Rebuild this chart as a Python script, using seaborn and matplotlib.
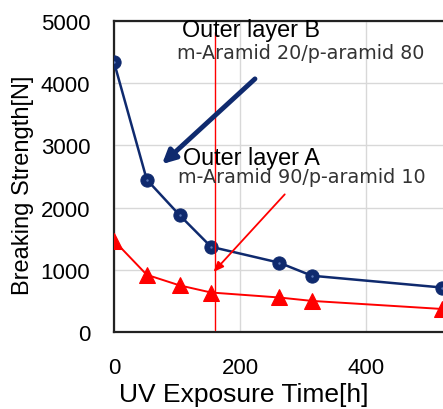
import matplotlib
matplotlib.use("Agg")
import matplotlib.pyplot as plt
from matplotlib.ticker import MultipleLocator
import seaborn as sns
import pandas as pd

# Data
hours_b = [0, 52, 104, 154, 262, 314, 521]
strength_b = [4340, 2450, 1880, 1370, 1115, 905, 715]   # Outer layer B
hours_a = [0, 52, 104, 154, 262, 314, 521]
strength_a = [1470, 920, 750, 635, 555, 500, 370]       # Outer layer A

label_b = "Outer layer B"
sub_b = "m-Aramid 20/p-aramid 80"
label_a = "Outer layer A"
sub_a = "m-Aramid 90/p-aramid 10"
xlabel = "UV Exposure Time[h]"
ylabel = "Breaking Strength[N]"
marker_hour = 160

sns.set_style("white")
plt.rcParams['font.family'] = ['Liberation Sans', 'DejaVu Sans']
plt.rcParams['text.color'] = 'black'
plt.rcParams['axes.labelcolor'] = 'black'
plt.rcParams['xtick.color'] = 'black'
plt.rcParams['ytick.color'] = 'black'

navy = "#0f2a6e"
red = "#ff0000"

fig = plt.figure(figsize=(4.43, 4.10), dpi=100)
ax = fig.add_axes([0.2573, 0.1878, 0.768, 0.7585])

df_b = pd.DataFrame({"h": hours_b, "s": strength_b})
df_a = pd.DataFrame({"h": hours_a, "s": strength_a})

sns.lineplot(data=df_b, x="h", y="s", ax=ax, color=navy, marker="o", markersize=9.5,
             markeredgecolor=navy, linewidth=1.8, zorder=3)
sns.scatterplot(data=df_b, x="h", y="s", ax=ax, color="#5a78b8", s=3, linewidth=0,
                zorder=4, legend=False)
sns.lineplot(data=df_a, x="h", y="s", ax=ax, color=red, marker="^", markersize=11,
             markeredgecolor=red, linewidth=1.4, zorder=3)

ax.set_xlim(0, 540)
ax.set_ylim(0, 5000)
ax.xaxis.set_major_locator(MultipleLocator(200))
ax.xaxis.set_minor_locator(MultipleLocator(50))
ax.yaxis.set_major_locator(MultipleLocator(1000))
ax.yaxis.set_minor_locator(MultipleLocator(500))
ax.grid(True, which="major", color="#d8d8d8", linewidth=1.0, zorder=0)
ax.set_axisbelow(True)
ax.tick_params(which="both", direction="in", length=5, width=1.4, color="#222222",
               labelsize=16)
ax.tick_params(axis="x", pad=18)
ax.tick_params(axis="y", pad=17)
for s in ax.spines.values():
    s.set_color("#222222")
    s.set_linewidth(1.6)

ax.set_xlabel(xlabel, fontsize=19)
ax.set_ylabel(ylabel, fontsize=17)
ax.xaxis.set_label_coords(0.382, -0.16)
ax.yaxis.set_label_coords(-0.235, 0.476)

# vertical red marker line
ax.plot([marker_hour, marker_hour], [30, 4820], color=red, linewidth=1.0, zorder=4)

# annotations
ax.text(107.5, 4764, label_b, fontsize=16.8, va="baseline", ha="left", color="black", zorder=5)
ax.text(99.5, 4400, sub_b, fontsize=13.8, va="baseline", ha="left", color="#333333",
        family=["DejaVu Sans"], zorder=5)
ax.text(109, 2701, label_a, fontsize=16.8, va="baseline", ha="left", color="black", zorder=5)
ax.text(102, 2416, sub_a, fontsize=13.8, va="baseline", ha="left", color="#333333",
        family=["DejaVu Sans"], zorder=5)

ax.annotate("", xy=(73, 2669), xytext=(227, 4100),
            arrowprops=dict(arrowstyle="-|>,head_length=0.8,head_width=0.4", color=navy, lw=3.5),
            zorder=5)
ax.annotate("", xy=(155, 932), xytext=(274, 2246),
            arrowprops=dict(arrowstyle="-|>,head_length=0.6,head_width=0.25", color=red, lw=1.3),
            zorder=5)

fig.savefig("out.png", dpi=100)
